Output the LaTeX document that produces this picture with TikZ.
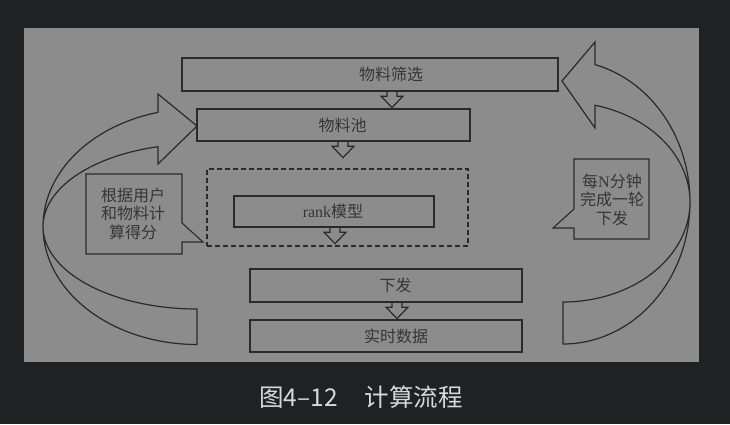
\documentclass[tikz,border=0pt]{standalone}
\usepackage{fontspec}
\setmainfont{Liberation Serif}
\newfontfamily\cjk{Noto Sans CJK SC}
\usetikzlibrary{calc}
\definecolor{pagebg}{HTML}{202124}
\definecolor{panel}{HTML}{8C8C8C}
\definecolor{ink}{HTML}{2A2A2A}
\definecolor{txt}{HTML}{353535}
\definecolor{captxt}{HTML}{D8D8D8}
\begin{document}
\begin{tikzpicture}[x=1pt,y=-1pt,
  stepbox/.style={draw=ink, line width=1.3pt, rectangle, inner sep=0pt},
  groupbox/.style={draw=ink, line width=1.1pt, dash pattern=on 5pt off 3pt, rectangle, inner sep=0pt},
  lbl/.style={font=\cjk\fontsize{16}{19}\selectfont, text=txt, inner sep=0pt, align=center},
  calltext/.style={font=\cjk\fontsize{16}{18.6}\selectfont, text=txt, inner sep=0pt, align=center},
  inkline/.style={draw=ink, line width=1.2pt},
  hollowdown/.pic={\draw[inkline] (-5,0) -- (-5,4.5) -- (-11,4.5) -- (0,16) -- (11,4.5) -- (5,4.5) -- (5,0);}
]
% page and panel
\fill[pagebg] (0,0) rectangle (730,424);
\fill[panel] (24,28) rectangle (699,362);

% process boxes
\node[stepbox, minimum width=376pt, minimum height=33pt] (filter) at (370,74.5) {};
\node[stepbox, minimum width=273pt, minimum height=32pt] (pool) at (333.5,125) {};
\node[groupbox, minimum width=261pt, minimum height=77pt] (group) at (337.5,207.5) {};
\node[stepbox, minimum width=200pt, minimum height=31pt] (rank) at (334,211.5) {};
\node[stepbox, minimum width=272pt, minimum height=33pt] (push) at (386,285.5) {};
\node[stepbox, minimum width=272pt, minimum height=32pt] (data) at (386,336) {};

% box labels
\node[lbl] (tfilter) at (391,74.5) {物料筛选};
\node[lbl] (tpool) at (342.5,125) {物料池};
\node[lbl] (trank) at (333,211.5) {\textrm{rank}模型};
\node[lbl] (tpush) at (395.5,285.5) {下发};
\node[lbl] (tdata) at (396,336) {实时数据};

% hollow arrows between the boxes
\coordinate (a1) at ($(filter.south)+(22,0)$);
\coordinate (a2) at ($(pool.south)+(9.5,0)$);
\coordinate (a3) at ($(rank.south)+(1,0)$);
\coordinate (a4) at ($(push.south)+(11,0)$);
\pic at (a1) {hollowdown};
\pic at (a2) {hollowdown};
\pic at (a3) {hollowdown};
\pic at (a4) {hollowdown};

% left curved arrow (scoring loop)
\draw[inkline] plot[domain=90:255.3, samples=90] ({197+154*cos(\x)},{226.5+118*sin(\x)})
  -- (158,94) -- (197,126) -- (158,164)
  -- plot[domain=255.3:90, samples=90] ({197+154*cos(\x)},{226.5+82.5*sin(\x)}) -- cycle;

% right curved arrow (periodic refresh loop)
\draw[inkline] plot[domain=90:-75.4, samples=90] ({563+127*cos(\x)},{202+142*sin(\x)})
  -- (595,42) -- (562,81) -- (595,128)
  -- plot[domain=-75.4:90, samples=90] ({563+127*cos(\x)},{202+100*sin(\x)}) -- cycle;

% callouts
\draw[inkline, line width=1.1pt] (86,174) -- (182,174) -- (182,223) -- (203,242) -- (182,242) -- (182,254) -- (86,254) -- cycle;
\node[calltext] (tscore) at (133,213.5) {根据用户\\和物料计\\算得分};
\draw[inkline, line width=1.1pt] (574,159) -- (649,159) -- (649,239) -- (574,239) -- (574,228) -- (553,228) -- (574,209) -- cycle;
\node[calltext] (tcycle) at (612,199.5) {每\textrm{N}分钟\\完成一轮\\下发};

% caption
\node[anchor=west, inner sep=0pt, font=\cjk\fontsize{24.5}{24.5}\selectfont, text=captxt] (cap) at (259,397) {图4–12\hspace{27pt}计算流程};
\end{tikzpicture}
\end{document}
